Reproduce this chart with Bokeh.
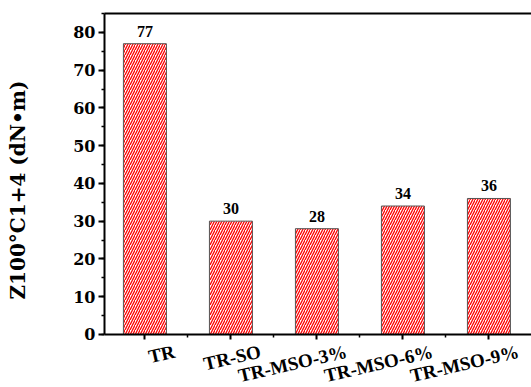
import math
from bokeh.plotting import figure
from bokeh.models import (ColumnDataSource, LabelSet, LinearAxis,
                          FixedTicker, Range1d)
from bokeh.embed import file_html
from bokeh.resources import INLINE

# Mooney viscosity of each sample
samples = ["TR", "TR-SO", "TR-MSO-3%", "TR-MSO-6%", "TR-MSO-9%"]
viscosity = [77, 30, 28, 34, 36]
positions = [1, 2, 3, 4, 5]
y_ticks = [0, 10, 20, 30, 40, 50, 60, 70, 80]

FONT = "DejaVu Serif"

src = ColumnDataSource(dict(
    x=positions,
    top=viscosity,
    label=[str(v) for v in viscosity],
    name=samples,
    name_y=[-6.1] * len(samples),
))

# the frame runs down to the bottom edge so that the slanted sample
# names can sit under the x axis, which is pinned at y = 0
p = figure(width=531, height=387, output_backend="svg", toolbar_location=None,
           x_range=Range1d(0.53, 5.495), y_range=Range1d(-14.07, 85),
           min_border_left=104, min_border_right=0,
           min_border_top=13, min_border_bottom=0)
p.outline_line_color = None
p.grid.visible = False
p.background_fill_color = "white"
p.border_fill_color = "white"

p.vbar(x="x", top="top", width=0.5, source=src,
       fill_color="white", line_color="#555555", line_width=1,
       hatch_pattern="right_diagonal_line", hatch_color="#ff0000",
       hatch_scale=5, hatch_weight=1.3)

# y axis
ya = p.yaxis[0]
ya.bounds = (0, 85)
ya.ticker = FixedTicker(ticks=y_ticks, minor_ticks=list(range(0, 86, 5)))
ya.axis_line_width = 2
ya.major_tick_line_width = 2
ya.minor_tick_line_width = 1.5
ya.major_tick_out = 6
ya.major_tick_in = 0
ya.minor_tick_out = 3
ya.minor_tick_in = 0
ya.major_label_standoff = 3
ya.major_label_text_font = FONT
ya.major_label_text_font_style = "bold"
ya.major_label_text_font_size = "16px"
ya.major_label_text_color = "black"
ya.axis_label = "\u00a0" * 3 + "Z100°C1+4 (dN•m)"
ya.axis_label_standoff = 40
ya.axis_label_text_font = FONT
ya.axis_label_text_font_style = "bold"
ya.axis_label_text_font_size = "20px"
ya.axis_label_text_color = "black"

# x axis at y = 0 with ticks at each bar
xa = p.xaxis[0]
xa.fixed_location = 0
xa.ticker = FixedTicker(ticks=positions, minor_ticks=[1.5, 2.5, 3.5, 4.5])
xa.axis_line_width = 2
xa.major_tick_line_width = 2
xa.minor_tick_line_width = 1.5
xa.major_tick_out = 5
xa.major_tick_in = 0
xa.minor_tick_out = 3
xa.minor_tick_in = 0
xa.major_label_text_font_size = "0px"
xa.major_label_overrides = {x: "" for x in positions}

# top frame line
top_axis = LinearAxis(ticker=FixedTicker(ticks=[]), axis_line_width=2,
                      major_tick_line_color=None, minor_tick_line_color=None)
p.add_layout(top_axis, "above")

# slanted sample names
p.add_layout(LabelSet(x="x", y="name_y", text="name", source=src,
                      x_offset=31, angle=13, angle_units="deg",
                      text_align="right", text_baseline="alphabetic",
                      text_font=FONT, text_font_style="bold",
                      text_font_size="19px", text_color="black"))

# value above each bar
p.add_layout(LabelSet(x="x", y="top", text="label", source=src,
                      y_offset=7, text_align="center",
                      text_baseline="alphabetic",
                      text_font=FONT, text_font_style="bold",
                      text_font_size="16px", text_color="black"))

open("out.html", "w").write(file_html(p, INLINE))
